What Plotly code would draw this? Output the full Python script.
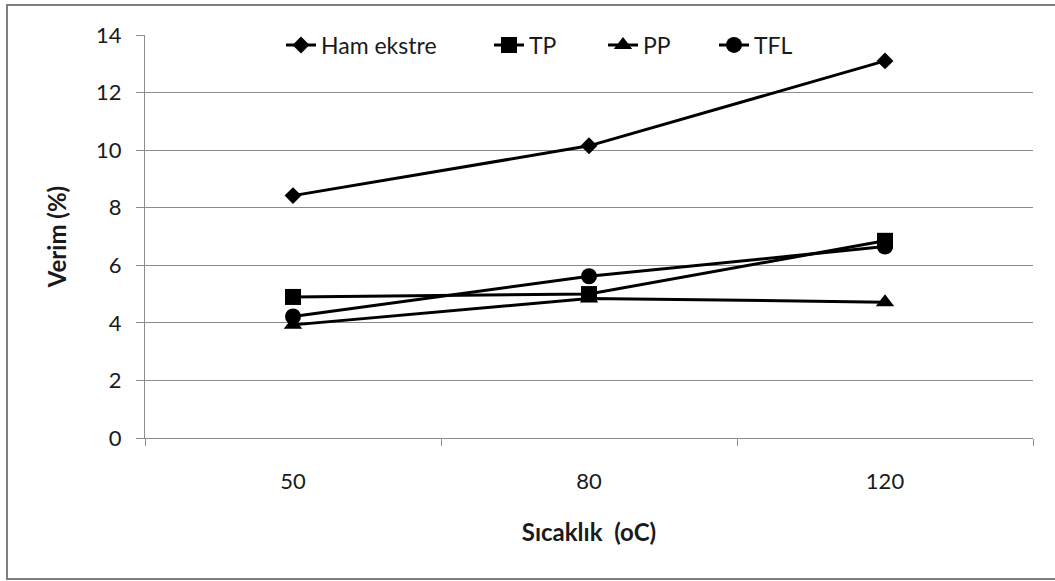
import plotly.graph_objects as go

# Extraction temperature categories and yields (%)
temperatures = ["50", "80", "120"]
ham_ekstre = [8.42, 10.15, 13.1]
tp = [4.9, 5.0, 6.85]
pp = [3.93, 4.85, 4.72]
tfl = [4.22, 5.62, 6.65]
y_ticks = [0, 2, 4, 6, 8, 10, 12, 14]

W, H = 1055, 581
L, R, T, B = 145, 22, 35, 143
pw, ph = W - L - R, H - T - B

def px_x(v):
    return (v - L) / pw

def px_y(v):
    return (H - B - v) / ph

font = "Lato, 'Open Sans', sans-serif"
txt = "#1a1a1a"

# name, values, marker symbol, marker size, legend id, legend left edge (px)
series = [
    ("Ham ekstre", ham_ekstre, "diamond", 13, "legend", 281),
    ("TP", tp, "square", 16, "legend2", 489),
    ("PP", pp, "triangle-up", 16, "legend3", 603),
    ("TFL", tfl, "circle", 16, "legend4", 714),
]

fig = go.Figure()
legends = {}
for name, vals, sym, size, leg, lx in series:
    fig.add_trace(go.Scatter(
        x=temperatures, y=vals, name=name, mode="lines+markers",
        line=dict(color="black", width=3),
        marker=dict(symbol=sym, size=size, color="black"),
        legend=leg,
    ))
    legends[leg] = dict(
        orientation="h", x=px_x(lx), y=px_y(45), xanchor="left", yanchor="middle",
        font=dict(family=font, size=23, color=txt), bgcolor="rgba(0,0,0,0)",
    )

fig.update_layout(
    width=W, height=H,
    margin=dict(l=L, r=R, t=T, b=B),
    paper_bgcolor="white", plot_bgcolor="white",
    font=dict(family=font, size=22, color=txt),
    showlegend=True,
    **legends,
    xaxis=dict(
        type="category", range=[-0.5, 2.5],
        showgrid=False, showline=True, linecolor="#8c8c8c", linewidth=1,
        ticks="outside", tickson="boundaries", ticklen=7, tickcolor="#8c8c8c",
        ticklabelstandoff=24,
        tickfont=dict(size=22),
        title=dict(text="<b>Sıcaklık  (oC)</b>", font=dict(size=24), standoff=30),
        zeroline=False,
    ),
    yaxis=dict(
        range=[0, 14], tickvals=y_ticks,
        showgrid=True, gridcolor="#8c8c8c", gridwidth=1,
        showline=True, linecolor="#8c8c8c", linewidth=1,
        ticks="outside", ticklen=8, tickcolor="#8c8c8c",
        ticklabelstandoff=10,
        tickfont=dict(size=22),
        title=dict(text="<b>Verim (%)</b>", font=dict(size=24), standoff=22),
        zeroline=False,
    ),
    shapes=[dict(
        type="rect", xref="paper", yref="paper",
        x0=px_x(7), x1=px_x(1070), y0=px_y(579), y1=px_y(5),
        line=dict(color="#7f7f7f", width=2), fillcolor="rgba(0,0,0,0)",
        layer="below",
    )],
)

fig.write_html("out.html")
